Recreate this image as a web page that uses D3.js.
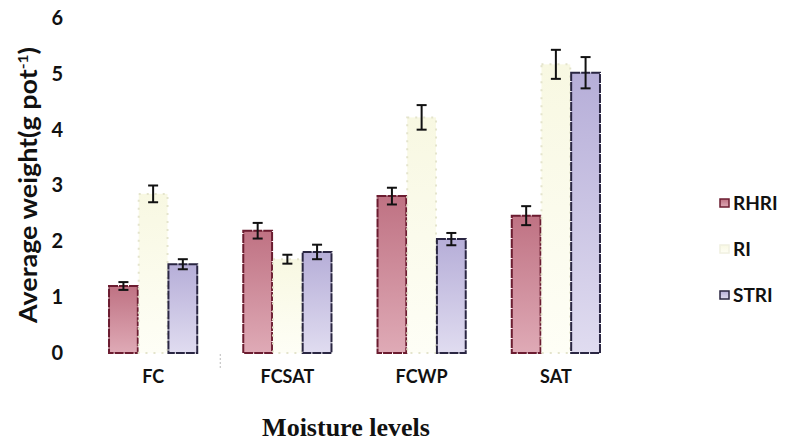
<!DOCTYPE html>
<html>
<head>
<meta charset="utf-8">
<script src="https://cdn.jsdelivr.net/npm/d3@7"></script>
<style>
  body { margin: 0; background: #fff; }
  svg { display: block; }
</style>
</head>
<body>
<svg id="chart" width="790" height="441"></svg>
<script>
// values
const categories = ['FC', 'FCSAT', 'FCWP', 'SAT'];
const seriesNames = ['RHRI', 'RI', 'STRI'];
const rhri = [1.20, 2.19, 2.81, 2.46];
const rhriErr = [0.07, 0.14, 0.15, 0.17];
const ri = [2.85, 1.68, 4.22, 5.17];
const riErr = [0.15, 0.08, 0.22, 0.26];
const stri = [1.59, 1.81, 2.04, 5.02];
const striErr = [0.09, 0.13, 0.11, 0.28];
const yTicks = [0, 1, 2, 3, 4, 5, 6];

const values = { RHRI: rhri, RI: ri, STRI: stri };
const errors = { RHRI: rhriErr, RI: riErr, STRI: striErr };

const svg = d3.select('#chart');

// gradients for the washed-out fills
const defs = svg.append('defs');
const grads = [
  { id: 'g-RHRI', top: '#bf7283', bottom: '#dfaab6' },
  { id: 'g-RI', top: '#f8f8e2', bottom: '#fefef6' },
  { id: 'g-STRI', top: '#b6aed8', bottom: '#e0dcf0' },
];
grads.forEach(g => {
  const lg = defs.append('linearGradient').attr('id', g.id)
    .attr('x1', 0).attr('y1', 0).attr('x2', 0).attr('y2', 1);
  lg.append('stop').attr('offset', '0%').attr('stop-color', g.top);
  lg.append('stop').attr('offset', '100%').attr('stop-color', g.bottom);
});
const strokes = { RHRI: '#6b1c30', RI: '#e4e4cc', STRI: '#2a2642' };

const x = d3.scaleBand()
  .domain(categories)
  .range([86, 623]);

const xSub = d3.scaleBand()
  .domain(seriesNames)
  .range([-45, 45])
  .padding(0.03);

const y = d3.scaleLinear()
  .domain([0, 6])
  .range([353, 18]);

// y axis: labels only
const yAxis = svg.append('g')
  .attr('transform', 'translate(66,0)')
  .call(d3.axisLeft(y).tickValues(yTicks).tickSize(0).tickPadding(3).tickFormat(d3.format('d')));
yAxis.select('.domain').remove();
yAxis.selectAll('text')
  .attr('font-family', 'Lato, sans-serif')
  .attr('font-weight', 'bold')
  .attr('font-size', 20)
  .attr('fill', '#111');

// x axis: labels plus faint separator tick
const xAxis = svg.append('g')
  .attr('transform', 'translate(0,366)')
  .call(d3.axisBottom(x).tickSize(0).tickPadding(4));
xAxis.select('.domain').remove();
xAxis.selectAll('text')
  .attr('font-family', 'Lato, sans-serif')
  .attr('font-weight', 'bold')
  .attr('font-size', 18)
  .attr('fill', '#111');

svg.append('line')
  .attr('x1', x('FCSAT')).attr('x2', x('FCSAT'))
  .attr('y1', 354).attr('y2', 368)
  .attr('stroke', '#bbb').attr('stroke-dasharray', '2,2');

// bars
const groups = svg.append('g').selectAll('g')
  .data(categories)
  .join('g')
  .attr('transform', d => `translate(${x(d) + x.bandwidth() / 2},0)`);

const rows = (cat, i) => seriesNames.map(s => ({ s, v: values[s][i], e: errors[s][i] }));

groups.selectAll('rect')
  .data(rows)
  .join('rect')
  .attr('x', d => xSub(d.s))
  .attr('y', d => y(d.v))
  .attr('width', xSub.bandwidth())
  .attr('height', d => y(0) - y(d.v))
  .attr('fill', d => `url(#g-${d.s})`)
  .attr('stroke', d => strokes[d.s])
  .attr('stroke-width', 2)
  .attr('stroke-dasharray', d => d.s === 'RI' ? '2,6' : '9,1');

// error bars
const eb = groups.selectAll('g.err')
  .data(rows)
  .join('g')
  .attr('class', 'err')
  .attr('stroke', '#111')
  .attr('stroke-width', 2);

const cx = d => xSub(d.s) + xSub.bandwidth() / 2;
eb.append('line')
  .attr('x1', cx).attr('x2', cx)
  .attr('y1', d => y(d.v - d.e)).attr('y2', d => y(d.v + d.e));
eb.append('line')
  .attr('x1', d => cx(d) - 5).attr('x2', d => cx(d) + 5)
  .attr('y1', d => y(d.v + d.e)).attr('y2', d => y(d.v + d.e));
eb.append('line')
  .attr('x1', d => cx(d) - 5).attr('x2', d => cx(d) + 5)
  .attr('y1', d => y(d.v - d.e)).attr('y2', d => y(d.v - d.e));

// axis titles
const yTitle = svg.append('text')
  .attr('transform', 'translate(37,323) rotate(-90)')
  .attr('text-anchor', 'start')
  .attr('font-family', 'Lato, sans-serif')
  .attr('font-weight', 'bold')
  .attr('font-size', 24)
  .attr('fill', '#111');
yTitle.append('tspan').text('Average weight(g pot');
yTitle.append('tspan').attr('font-size', 14).attr('dy', -9).text('-1');
yTitle.append('tspan').attr('dy', 9).text(')');
// stretch/shrink to the span measured on the figure
const titleLen = yTitle.node().getComputedTextLength();
yTitle.attr('textLength', 276).attr('lengthAdjust', 'spacingAndGlyphs');
if (!titleLen) yTitle.attr('textLength', null);

svg.append('text')
  .attr('x', 346)
  .attr('y', 436)
  .attr('text-anchor', 'middle')
  .attr('font-family', '"Liberation Serif", "Times New Roman", serif')
  .attr('font-weight', 'bold')
  .attr('font-size', 26)
  .attr('fill', '#111')
  .text('Moisture levels');

// legend
const legend = svg.append('g').attr('transform', 'translate(720,0)')
  .selectAll('g')
  .data(seriesNames)
  .join('g')
  .attr('transform', (d, i) => `translate(0,${203 + i * 46})`);

legend.append('rect')
  .attr('x', 0).attr('y', -4)
  .attr('width', 9).attr('height', 8)
  .attr('fill', d => `url(#g-${d})`)
  .attr('stroke', d => d === 'RI' ? '#f0f0e0' : strokes[d])
  .attr('stroke-width', 1.5);

legend.append('text')
  .attr('x', 13)
  .attr('dy', '0.35em')
  .attr('font-family', 'Lato, sans-serif')
  .attr('font-weight', 'bold')
  .attr('font-size', 19)
  .attr('fill', '#111')
  .text(d => d);
</script>
</body>
</html>
